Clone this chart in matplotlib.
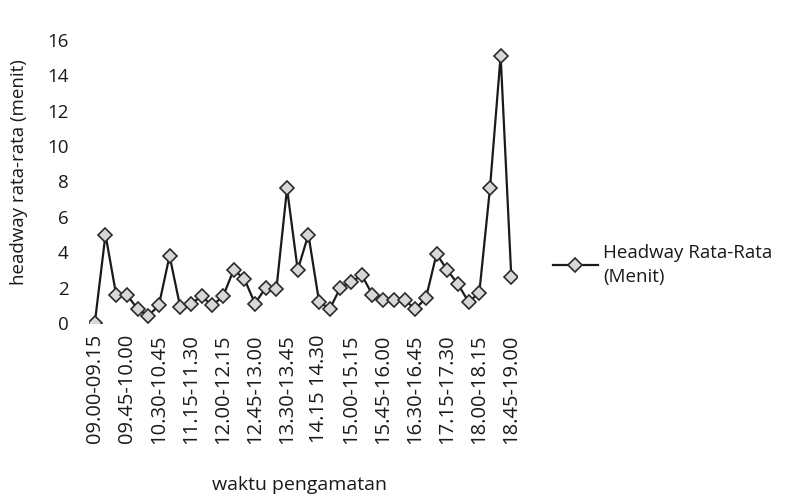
import matplotlib
matplotlib.use("Agg")
import matplotlib.pyplot as plt

# Time periods (15-minute intervals, 09.00 - 19.00)
periods = [
    "09.00-09.15", "09.15-09.30", "09.30-09.45", "09.45-10.00", "10.00-10.15",
    "10.15-10.30", "10.30-10.45", "10.45-11.00", "11.00-11.15", "11.15-11.30",
    "11.30-11.45", "11.45-12.00", "12.00-12.15", "12.15-12.30", "12.30-12.45",
    "12.45-13.00", "13.00-13.15", "13.15-13.30", "13.30-13.45", "13.45-14.00",
    "14.00-14.15", "14.15 14.30", "14.30-14.45", "14.45-15.00", "15.00-15.15",
    "15.15-15.30", "15.30-15.45", "15.45-16.00", "16.00-16.15", "16.15-16.30",
    "16.30-16.45", "16.45-17.00", "17.00-17.15", "17.15-17.30", "17.30-17.45",
    "17.45-18.00", "18.00-18.15", "18.15-18.30", "18.30-18.45", "18.45-19.00",
]

headway = [
    0.0, 5.0, 1.6, 1.6, 0.8, 0.4, 1.0, 3.8, 0.9, 1.1,
    1.5, 1.0, 1.5, 3.0, 2.5, 1.1, 2.0, 1.9, 7.6, 3.0,
    5.0, 1.2, 0.8, 2.0, 2.3, 2.7, 1.6, 1.3, 1.3, 1.3,
    0.8, 1.4, 3.9, 3.0, 2.2, 1.2, 1.7, 7.6, 15.1, 2.6,
]

y_ticks = [0, 2, 4, 6, 8, 10, 12, 14, 16]

series_label = "Headway Rata-Rata\n(Menit)"
x_label = "waktu pengamatan"
y_label = "headway rata-rata (menit)"

plt.rcParams['font.family'] = ['Open Sans', 'DejaVu Sans']

fig = plt.figure(figsize=(8.06, 4.97), dpi=100)
ax = fig.add_axes([0.111, 0.350, 0.530, 0.570])

x = list(range(len(periods)))
ax.plot(x, headway, color="#1a1a1a", linewidth=1.6,
        marker="D", markersize=7.5, markerfacecolor="#d8d8d8",
        markeredgecolor="#2a2a2a", markeredgewidth=1.2,
        label=series_label)

ax.set_xlim(-0.5, len(periods) - 0.5)
ax.set_ylim(0, 16)
ax.set_yticks(y_ticks)
ax.set_yticklabels([str(t) for t in y_ticks], fontsize=13.5, color="#1a1a1a")

shown = x[::3]
ax.set_xticks(shown)
ax.set_xticklabels([periods[i] for i in shown], rotation=90, fontsize=14.5,
                   color="#1a1a1a")

ax.tick_params(axis="both", length=0)
ax.tick_params(axis="y", pad=15)
ax.tick_params(axis="x", pad=8)

for s in ax.spines.values():
    s.set_visible(False)

ax.set_xlabel(x_label, fontsize=14, color="#1a1a1a")
ax.xaxis.set_label_coords(0.492, -0.54)
ax.set_ylabel(y_label, fontsize=13.5, color="#1a1a1a")
ax.yaxis.set_label_coords(-0.144, 0.534)

leg = ax.legend(loc="center left", bbox_to_anchor=(1.084, 0.205), frameon=False,
                fontsize=13.5, handlelength=2.4, handletextpad=0.3,
                borderpad=0, borderaxespad=0, labelcolor="#1a1a1a")
for t in leg.get_texts():
    t.set_linespacing(1.45)

fig.savefig("out.png", dpi=100)
